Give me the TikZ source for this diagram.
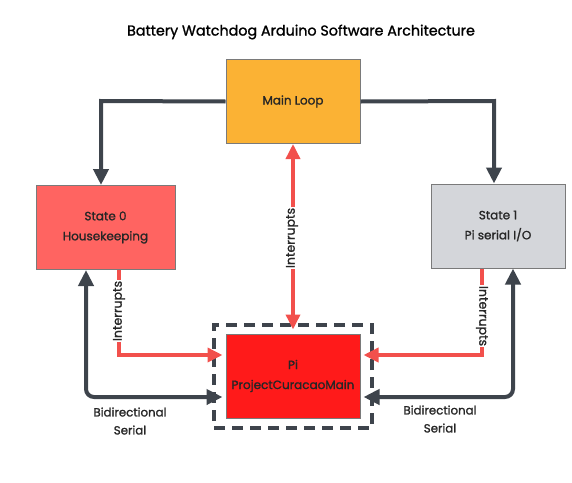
\documentclass[tikz,border=0pt]{standalone}
\usepackage{fontspec}
\setmainfont{Poppins}[FakeBold=1.3]
\usetikzlibrary{arrows.meta}
\definecolor{darkc}{HTML}{3E444C}
\definecolor{redc}{HTML}{F2504C}
\definecolor{mainc}{HTML}{FBB234}
\definecolor{s0c}{HTML}{FF6461}
\definecolor{s1c}{HTML}{D4D6DA}
\definecolor{pic}{HTML}{FF1A1A}
\definecolor{edgec}{HTML}{7A7A7A}
\tikzset{
  box/.style={draw=edgec, line width=1pt, minimum width=134pt, minimum height=84pt, align=center, font=\fontsize{12}{20}\selectfont, text=black!85},
  darkline/.style={draw=darkc, line width=4pt, -{Triangle[length=16pt,width=15pt]}},
  redline/.style={draw=redc, line width=3.5pt, -{Triangle[length=15pt,width=14pt]}},
  lbl/.style={font=\fontsize{11.8}{18}\selectfont, align=center, text=black!85},
  rlbl/.style={font=\fontsize{12.5}{14}\selectfont, text=black!85, fill=white, inner sep=1pt}
}
\begin{document}
\begin{tikzpicture}[x=1pt,y=-1pt]
\useasboundingbox (0,0) rectangle (572,482);
\node[font=\fontsize{14.3}{16}\selectfont] (title) at (301,32) {Battery Watchdog Arduino Software Architecture};
\node[box, fill=mainc] (main) at (293,101.5) {Main Loop};
\node[box, fill=s0c, minimum width=139pt] (s0) at (105.5,227.5) {State 0\\Housekeeping};
\node[box, fill=s1c] (s1) at (498,226) {State 1\\Pi serial I/O};
\node[box, fill=pic] (pi) at (293,376) {Pi\\ProjectCuracaoMain};
\node[draw=darkc, line width=4pt, dash pattern=on 11pt off 7pt, minimum width=158pt, minimum height=103pt] (frame) at (293,376.5) {};
% top connectors
\coordinate (tl) at (101,101);
\coordinate (tr) at (494,101);
\draw[darkline] (main.west) -- (tl) -- (tl |- s0.north);
\draw[darkline] (main.east) -- (tr) -- (tr |- s1.north);
% central interrupts
\draw[redline, {Triangle[length=15pt,width=14pt]}-{Triangle[length=15pt,width=14pt]}] (main.south) -- ([yshift=4pt]pi.north);
\node[rlbl, rotate=90] (li0) at (292,238) {Interrupts};
% left interrupts
\coordinate (c1) at (119,355);
\draw[redline, shorten >=3pt] (c1 |- s0.south) -- (c1) -- (c1 -| pi.west);
\node[rlbl, rotate=90] (li1) at (119,311) {Interrupts};
% right interrupts
\coordinate (c4) at (482,355);
\draw[redline, shorten >=3pt] (c4 |- s1.south) -- (c4) -- (c4 -| pi.east);
\node[rlbl, rotate=-90] (li2) at (482,316) {Interrupts};
% bidirectional
\coordinate (c2) at (86,397);
\draw[darkline, {Triangle[length=16pt,width=15pt]}-{Triangle[length=16pt,width=15pt]}, rounded corners=8pt, shorten >=3pt] (c2 |- s0.south) -- (c2) -- (c2 -| pi.west);
\node[lbl] (lb1) at (130,421) {Bidirectional\\Serial};
\coordinate (c3) at (513,397);
\draw[darkline, {Triangle[length=16pt,width=15pt]}-{Triangle[length=16pt,width=15pt]}, rounded corners=8pt, shorten >=3pt] (c3 |- s1.south) -- (c3) -- (c3 -| pi.east);
\node[lbl] (lb2) at (440,419) {Bidirectional\\Serial};
\end{tikzpicture}
\end{document}
